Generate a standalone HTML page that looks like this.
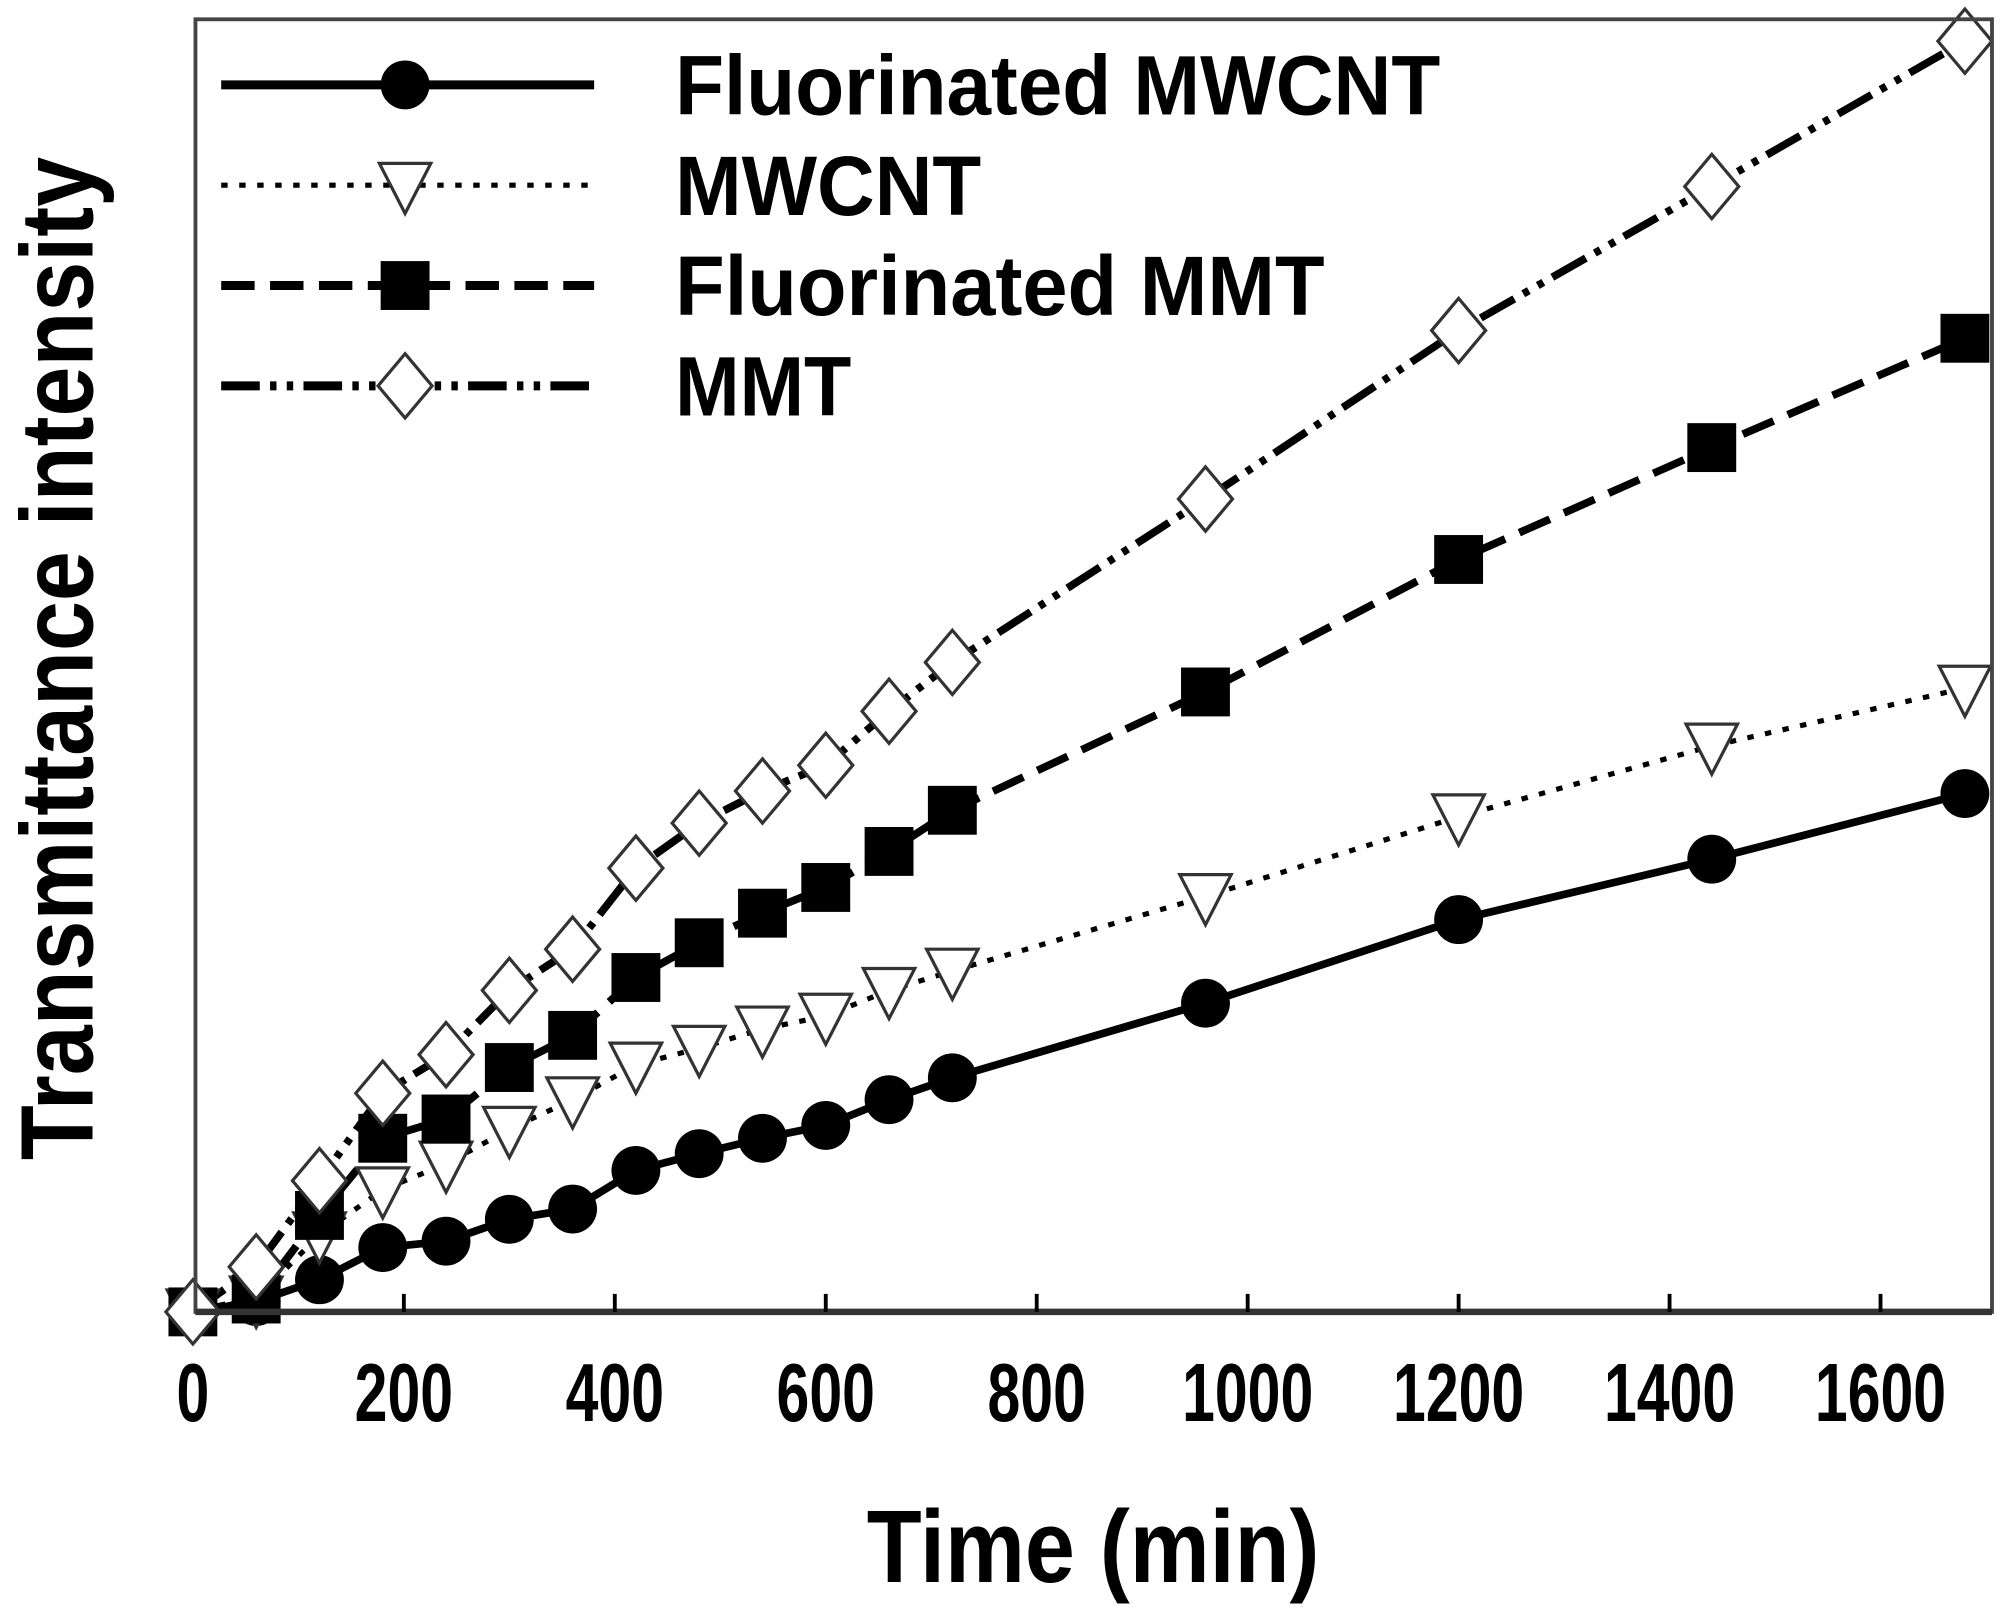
<!DOCTYPE html>
<html><head><meta charset="utf-8"><style>
html,body{margin:0;padding:0;background:#fff;}
svg{display:block;}
text{font-family:"Liberation Sans",Arial,sans-serif;font-weight:bold;fill:#000;}
</style></head><body>
<svg id="s" width="2010" height="1609" viewBox="0 0 1563 1251" preserveAspectRatio="none" xmlns="http://www.w3.org/2000/svg">
<rect x="0" y="0" width="1563" height="1251" fill="#fff"/>
<g id="plot"></g>
<rect x="152" y="15" width="1397" height="1005" fill="none" stroke="#444" stroke-width="3"/>
<line x1="152" y1="1020" x2="1549" y2="1020" stroke="#333" stroke-width="5"/>
<g id="ticks"></g>
<text x="850" y="1230" font-size="80" text-anchor="middle" textLength="352" lengthAdjust="spacingAndGlyphs">Time (min)</text>
<text transform="translate(72,512) rotate(-90)" font-size="80" text-anchor="middle" textLength="780" lengthAdjust="spacingAndGlyphs">Transmittance intensity</text>
<g id="leg"></g>
</svg>
<script>
var NS="http://www.w3.org/2000/svg";
function el(p,t,a){var e=document.createElementNS(NS,t);for(var k in a)e.setAttribute(k,a[k]);p.appendChild(e);return e;}
var ticks=document.getElementById('ticks');
for(var v=0;v<=1600;v+=200){var x=150+v*0.8202;
 if(v>0)el(ticks,'line',{x1:x,y1:1020,x2:x,y2:1006,stroke:'#000','stroke-width':3});
 var s=String(v);
 var t=el(ticks,'text',{x:x,y:1105,'font-size':64,'text-anchor':'middle',textLength:s.length*25.5,lengthAdjust:'spacingAndGlyphs'});t.textContent=s;}
var T=[0,60,120,180,240,300,360,420,480,540,600,660,720,960,1200,1440,1680];
var S=[
 {y:[1020,1012,995,970,965,948,940,910,897,885,875,855,838,780,715,668,617],dash:'',m:'c'},
 {y:[1020,1010,960,925,905,878,855,828,815,800,790,770,755,697,635,580,535],dash:'5 9',m:'t'},
 {y:[1020,1010,945,885,870,830,805,760,733,710,690,662,630,538,435,348,263],dash:'26 12',m:'s'},
 {y:[1020,985,918,850,820,770,738,675,640,615,595,553,515,388,257,145,32],dash:'30 8 5 8 5 8',m:'d'}];
var plot=document.getElementById('plot');
function marker(g,m,x,y,sc){sc=sc||1;
 if(m=='c')el(g,'circle',{cx:x,cy:y,r:19*sc,fill:'#000'});
 if(m=='s')el(g,'rect',{x:x-19*sc,y:y-19*sc,width:38*sc,height:38*sc,fill:'#000'});
 if(m=='t')el(g,'polygon',{points:(x-20*sc)+','+(y-17*sc)+' '+(x+20*sc)+','+(y-17*sc)+' '+x+','+(y+22*sc),fill:'#fff',stroke:'#333','stroke-width':2.5});
 if(m=='d')el(g,'polygon',{points:x+','+(y-25*sc)+' '+(x+21*sc)+','+y+' '+x+','+(y+25*sc)+' '+(x-21*sc)+','+y,fill:'#fff',stroke:'#333','stroke-width':2.5});}
S.forEach(function(s){var pts=T.map(function(t,i){return (150+t*0.8202)+','+s.y[i];}).join(' ');
 var a={points:pts,fill:'none',stroke:'#000','stroke-width':s.m=='t'?4:6};if(s.dash)a['stroke-dasharray']=s.dash;el(plot,'polyline',a);});
S.forEach(function(s){T.forEach(function(t,i){marker(plot,s.m,150+t*0.8202,s.y[i]);});});
var leg=document.getElementById('leg');var names=['Fluorinated MWCNT','MWCNT','Fluorinated MMT','MMT'];var ly=[66,144,222,300];var tl=[595,238,505,137];
S.forEach(function(s,i){var a={x1:172,y1:ly[i],x2:462,y2:ly[i],stroke:'#000','stroke-width':s.m=='t'?4:7};if(s.dash)a['stroke-dasharray']=s.dash;el(leg,'line',a);
 marker(leg,s.m,315,ly[i]);var t=el(leg,'text',{x:525,y:ly[i]+23,'font-size':66,textLength:tl[i],lengthAdjust:'spacingAndGlyphs'});t.textContent=names[i];});
</script>
</body></html>
